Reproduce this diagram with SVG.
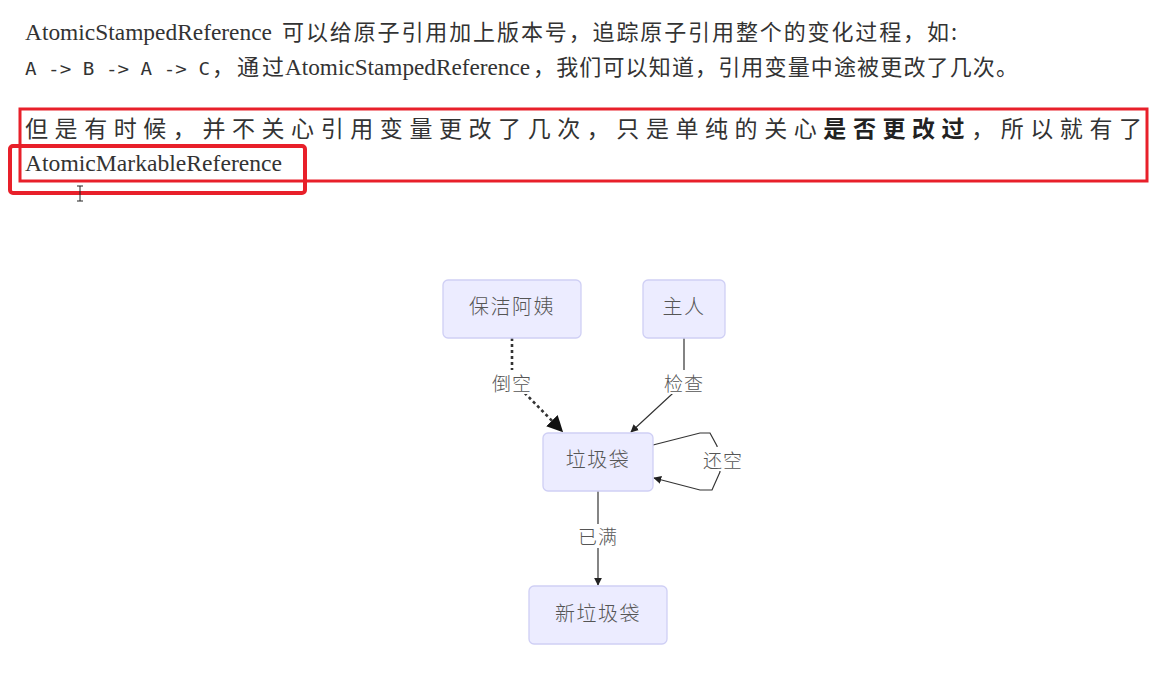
<svg xmlns="http://www.w3.org/2000/svg" width="1153" height="688" viewBox="0 0 1153 688">
  <style>
    .serif { font-family: "Liberation Serif", "Times New Roman", serif; font-size: 23px; fill: #333; }
    .cjk { font-family: "Noto Sans CJK SC", "Noto Sans", sans-serif; font-size: 22px; fill: #333; }
    .mono { font-family: "DejaVu Sans Mono", "Liberation Mono", monospace; font-size: 17px; fill: #333; }
    .wide { font-family: "Noto Sans CJK SC", "Noto Sans", sans-serif; font-size: 23px; fill: #333; }
    .hl { fill: none; stroke: #e8202a; }
    .node rect { fill: #ececff; stroke: #cfcff5; stroke-width: 1.3; }
    .node text { font-family: "Noto Sans CJK SC", "Noto Sans", sans-serif; font-size: 20px; font-weight: 300; fill: #555; text-anchor: middle; dominant-baseline: central; letter-spacing: 1.5px; }
    .edge { fill: none; stroke: #333; stroke-width: 1.2; }
    .edge.dotted { stroke-width: 2.6; stroke-dasharray: 3 3; }
    .lblbg { fill: #fff; }
    .lbl { font-family: "Noto Sans CJK SC", "Noto Sans", sans-serif; font-size: 19px; font-weight: 300; fill: #555; text-anchor: middle; dominant-baseline: central; letter-spacing: 1px; }
  </style>
  <defs>
    <marker id="arrow" viewBox="0 0 10 10" refX="9" refY="5" markerWidth="8" markerHeight="8" markerUnits="userSpaceOnUse" orient="auto">
      <path d="M0,0 L10,5 L0,10 z" fill="#222"/>
    </marker>
    <marker id="arrowBig" viewBox="0 0 10 10" refX="9" refY="5" markerWidth="16" markerHeight="16" markerUnits="userSpaceOnUse" orient="auto">
      <path d="M0,0 L10,5 L0,10 z" fill="#111"/>
    </marker>
  </defs>

  <rect width="1153" height="688" fill="#fff"/>

  <!-- paragraph text -->
  <g id="paragraph">
    <text class="serif" x="25" y="40" textLength="247" lengthAdjust="spacingAndGlyphs">AtomicStampedReference</text>
    <text class="cjk" x="282" y="40" textLength="675" lengthAdjust="spacing">可以给原子引用加上版本号，追踪原子引用整个的变化过程，如:</text>

    <text class="mono" x="25" y="75" textLength="185" lengthAdjust="spacingAndGlyphs">A -&gt; B -&gt; A -&gt; C</text>
    <text class="cjk" x="212" y="75" textLength="72" lengthAdjust="spacing">，通过</text>
    <text class="serif" x="285" y="75" textLength="245" lengthAdjust="spacingAndGlyphs">AtomicStampedReference</text>
    <text class="cjk" x="533" y="75" textLength="485" lengthAdjust="spacing">，我们可以知道，引用变量中途被更改了几次。</text>

    <text class="wide" x="25" y="137" textLength="1117" lengthAdjust="spacing">但是有时候，并不关心引用变量更改了几次，只是单纯的关心<tspan font-weight="bold" fill="#222">是否更改过</tspan>，所以就有了</text>
    <text class="serif" x="25" y="171" textLength="257" lengthAdjust="spacingAndGlyphs">AtomicMarkableReference</text>

    <!-- highlight frames -->
    <rect class="hl" x="20" y="109" width="1127" height="72" stroke-width="3"/>
    <rect class="hl" x="10" y="146" width="295" height="47" rx="3" stroke-width="4"/>

    <!-- text cursor -->
    <path d="M77,186 H83 M80,186 V201 M77,201 H83" stroke="#222" stroke-width="1" fill="none"/>
  </g>

  <!-- connectors -->
  <g id="connectors">
    <path class="edge dotted" d="M512,338 L512,380 L562,431" marker-end="url(#arrowBig)"/>
    <path class="edge" d="M684,338 L684,383 L631,432" marker-end="url(#arrow)"/>
    <path class="edge" d="M653,445 L700,433 L710,433 L717,446 L720,472 L712,490 L700,490 L654,478" marker-end="url(#arrow)"/>
    <path class="edge" d="M598,491 L598,585" marker-end="url(#arrow)"/>

    <rect class="lblbg" x="490" y="370" width="44" height="24"/>
    <text class="lbl" x="512" y="382">倒空</text>
    <rect class="lblbg" x="662" y="370" width="44" height="24"/>
    <text class="lbl" x="684" y="382">检查</text>
    <rect class="lblbg" x="701" y="447" width="44" height="24"/>
    <text class="lbl" x="723" y="459">还空</text>
    <rect class="lblbg" x="576" y="524" width="44" height="24"/>
    <text class="lbl" x="598" y="535">已满</text>
  </g>

  <!-- nodes -->
  <g id="cleaner" class="node">
    <rect x="443" y="280" width="138" height="58" rx="5"/>
    <text x="512" y="305">保洁阿姨</text>
  </g>
  <g id="owner" class="node">
    <rect x="643" y="280" width="82" height="58" rx="5"/>
    <text x="684" y="305">主人</text>
  </g>
  <g id="bag" class="node">
    <rect x="543" y="433" width="110" height="58" rx="5"/>
    <text x="598" y="458">垃圾袋</text>
  </g>
  <g id="newbag" class="node">
    <rect x="529" y="586" width="138" height="58" rx="5"/>
    <text x="598" y="612">新垃圾袋</text>
  </g>
</svg>
